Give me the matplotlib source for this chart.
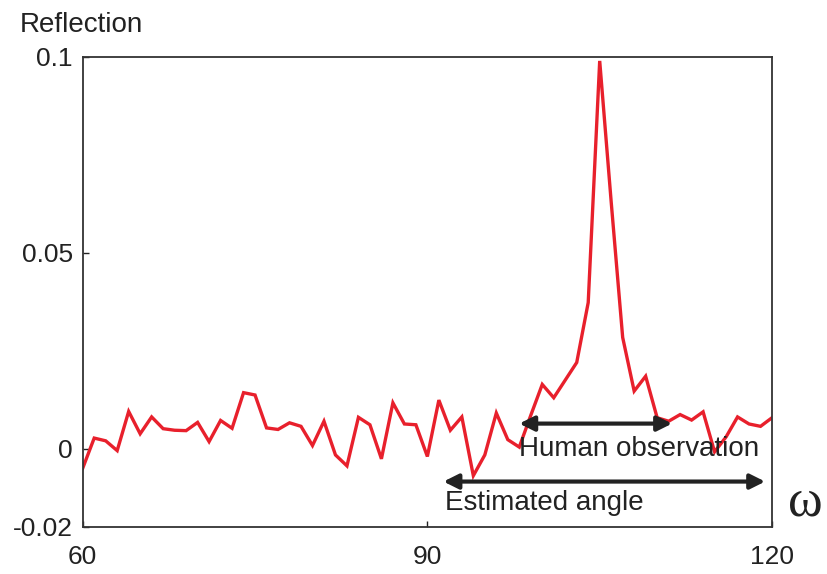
import matplotlib
matplotlib.use("Agg")
import matplotlib.pyplot as plt

plt.rcParams["font.family"] = ["Liberation Sans", "DejaVu Sans"]

# reflection vs. angle omega, one sample per degree
omega = list(range(60, 121))
reflection = [
    -0.0050, 0.0027, 0.0020, -0.0005, 0.0095, 0.0038, 0.0081, 0.0051, 0.0047, 0.0046,
    0.0067, 0.0018, 0.0072, 0.0052, 0.0143, 0.0137, 0.0053, 0.0049, 0.0066, 0.0057,
    0.0008, 0.0070, -0.0016, -0.0044, 0.0080, 0.0061, -0.0026, 0.0117, 0.0063, 0.0061,
    -0.0020, 0.0124, 0.0047, 0.0081, -0.0069, -0.0016, 0.0091, 0.0023, 0.0004, 0.0085,
    0.0164, 0.0130, 0.0175, 0.0220, 0.0373, 0.0990, 0.0630, 0.0284, 0.0147, 0.0185,
    0.0079, 0.0070, 0.0087, 0.0073, 0.0094, -0.0008, 0.0030, 0.0081, 0.0063, 0.0057,
    0.0079,
]

x_ticks = [60, 90, 120]
y_ticks = [-0.02, 0, 0.05, 0.1]
y_tick_labels = ["-0.02", "0", "0.05", "0.1"]

human_range = (98.0, 111.3)
estimated_range = (91.4, 119.4)

text_col = "#222222"
line_col = "#e8202c"

fig = plt.figure(figsize=(8.28, 5.74), dpi=100)
ax = fig.add_axes([0.0999, 0.0819, 0.8325, 0.8188])

ax.plot(omega, reflection, color=line_col, lw=2.4, solid_joinstyle="miter")

ax.set_xlim(60, 120)
ax.set_ylim(-0.02, 0.1)
ax.set_xticks(x_ticks)
ax.set_xticklabels([str(t) for t in x_ticks])
ax.set_yticks(y_ticks)
ax.set_yticklabels(y_tick_labels)
ax.tick_params(direction="in", length=4, width=1, colors=text_col,
               labelsize=19, labelcolor=text_col)
ax.tick_params(axis="x", pad=13)
ax.tick_params(axis="y", pad=7)
for sp in ax.spines.values():
    sp.set_linewidth(1.3)
    sp.set_color("#333333")

arrow_kw = dict(arrowstyle="<|-|>", color=text_col, lw=3, mutation_scale=22,
                shrinkA=0, shrinkB=0)
ax.annotate("", xy=(human_range[1], 0.0064), xytext=(human_range[0], 0.0064),
            arrowprops=arrow_kw)
ax.annotate("", xy=(estimated_range[1], -0.0084), xytext=(estimated_range[0], -0.0084),
            arrowprops=arrow_kw)
ax.text(human_range[0], -0.002, "Human observation", fontsize=20, color=text_col,
        ha="left", va="baseline")
ax.text(91.5, -0.0156, "Estimated angle", fontsize=20, color=text_col,
        ha="left", va="baseline")

fig.text(0.024, 1 - 32 / 574, "Reflection", fontsize=20, color=text_col,
         ha="left", va="baseline")
fig.text(0.972, 1 - 503 / 574, "ω", fontsize=38, color=text_col,
         family=["Liberation Serif", "DejaVu Serif"], ha="center", va="center")

fig.savefig("out.png", dpi=100)
